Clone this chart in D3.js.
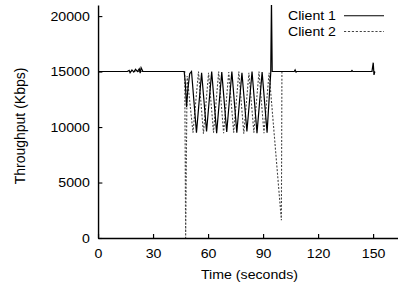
<!DOCTYPE html>
<html><head><meta charset="utf-8">
<script src="https://cdn.jsdelivr.net/npm/d3@7"></script>
<style>body{margin:0;background:#fff} svg{display:block}</style>
</head><body>
<script>
const xTicks = [0, 30, 60, 90, 120, 150];
const yTicks = [0, 5000, 10000, 15000, 20000];
const seriesNames = ["Client 1", "Client 2"];

const client1Time = [0,16,17,17.5,18.5,19.5,20.5,21.5,22.5,23,23.5,24.5,
  47,47.6,48.3,49,50,51,
  53.7,56.5,59.2,62,64.7,67.5,70.2,73,75.7,78.5,81.2,84,86.7,89.5,92.2,
  94.2,94.6,95,
  107,107.5,108,108.5,
  138,138.5,139,
  149.4,150.1,150.5,151];
const client1Kbps = [15000,15000,15100,14900,15150,14950,15200,15000,15250,14850,15350,15000,
  15000,14000,11800,13400,14800,15000,
  9500,14900,9600,15000,9450,14950,9550,15000,9500,14900,9600,15000,9450,14950,9500,
  14900,21500,15000,
  15000,15150,14950,15000,
  15000,15100,15000,
  15000,15800,14700,15000];

const client2Time = [0,47.3,47.8,48.6,51.8,54.8,57.5,60.3,63,65.8,68.5,71.3,74,76.8,79.5,82.3,85,87.8,90.5,93.3,100,100.3,151];
const client2Kbps = [15000,15000,0,14600,9500,15000,9400,14900,9500,15000,9450,14950,9500,15000,9400,14900,9500,15000,9450,14900,1600,15000,15000];

const W = 398, H = 284, S = 1.09;
const VW = W / S;
const FONT = "'Liberation Sans', Arial, Helvetica, sans-serif";

const svg = d3.select("body").append("svg")
  .attr("width", W).attr("height", H)
  .attr("viewBox", `0 0 ${VW} ${H}`)
  .attr("preserveAspectRatio", "none");

const x = d3.scaleLinear().domain([0, 163.6]).range([98 / S, 398 / S]);
const y = d3.scaleLinear().domain([0, 21000]).range([238, 5]);

svg.append("defs").append("clipPath").attr("id", "plot")
  .append("rect").attr("x", x(0)).attr("y", y(21000))
  .attr("width", x(163.6) - x(0)).attr("height", y(0) - y(21000));

const line = d3.line().x(d => x(d[0])).y(d => y(d[1]));
const s1 = client1Time.map((t, i) => [t, client1Kbps[i]]);
const s2 = client2Time.map((t, i) => [t, client2Kbps[i]]);

const g = svg.append("g").attr("clip-path", "url(#plot)");
g.append("path").datum(s2).attr("d", line)
  .attr("fill", "none").attr("stroke", "#444").attr("stroke-width", 1)
  .attr("stroke-dasharray", "2,1.6");
g.append("path").datum(s1).attr("d", line)
  .attr("fill", "none").attr("stroke", "#000").attr("stroke-width", 1.1);

const xAxis = svg.append("g").attr("transform", `translate(0,${y(0)})`)
  .call(d3.axisBottom(x).tickValues(xTicks).tickSizeInner(-4).tickSizeOuter(0).tickPadding(10.5));
const yAxis = svg.append("g").attr("transform", `translate(${x(0)},0)`)
  .call(d3.axisLeft(y).tickValues(yTicks).tickSizeInner(-4).tickSizeOuter(0).tickPadding(7.5).tickFormat(d3.format("d")));
[xAxis, yAxis].forEach(a => {
  a.selectAll("text").attr("font-size", 13).attr("font-family", FONT).attr("fill", "#000");
  a.selectAll("line").attr("stroke", "#000").attr("stroke-width", 1.1);
  a.select(".domain").attr("stroke", "#000").attr("stroke-width", 1.3);
});

svg.append("text").attr("x", 249.5 / S).attr("y", 279.5)
  .attr("text-anchor", "middle").attr("font-size", 13).attr("font-family", FONT)
  .text("Time (seconds)");

svg.append("text")
  .attr("transform", `translate(${24.5 / S},126) scale(${1 / S},1) rotate(-90)`)
  .attr("text-anchor", "middle").attr("font-size", 14).attr("font-family", FONT)
  .text("Throughput (Kbps)");

// legend
const legY = [15.7, 31.4];
seriesNames.forEach((name, i) => {
  svg.append("text").attr("x", 336 / S).attr("y", legY[i] + 4.5)
    .attr("text-anchor", "end").attr("font-size", 13).attr("font-family", FONT)
    .text(name);
  const l = svg.append("line").attr("x1", 344 / S).attr("x2", 384 / S)
    .attr("y1", legY[i]).attr("y2", legY[i])
    .attr("stroke", i === 0 ? "#000" : "#444").attr("stroke-width", i === 0 ? 1.1 : 1);
  if (i === 1) l.attr("stroke-dasharray", "2,1.6");
});
</script>
</body></html>
